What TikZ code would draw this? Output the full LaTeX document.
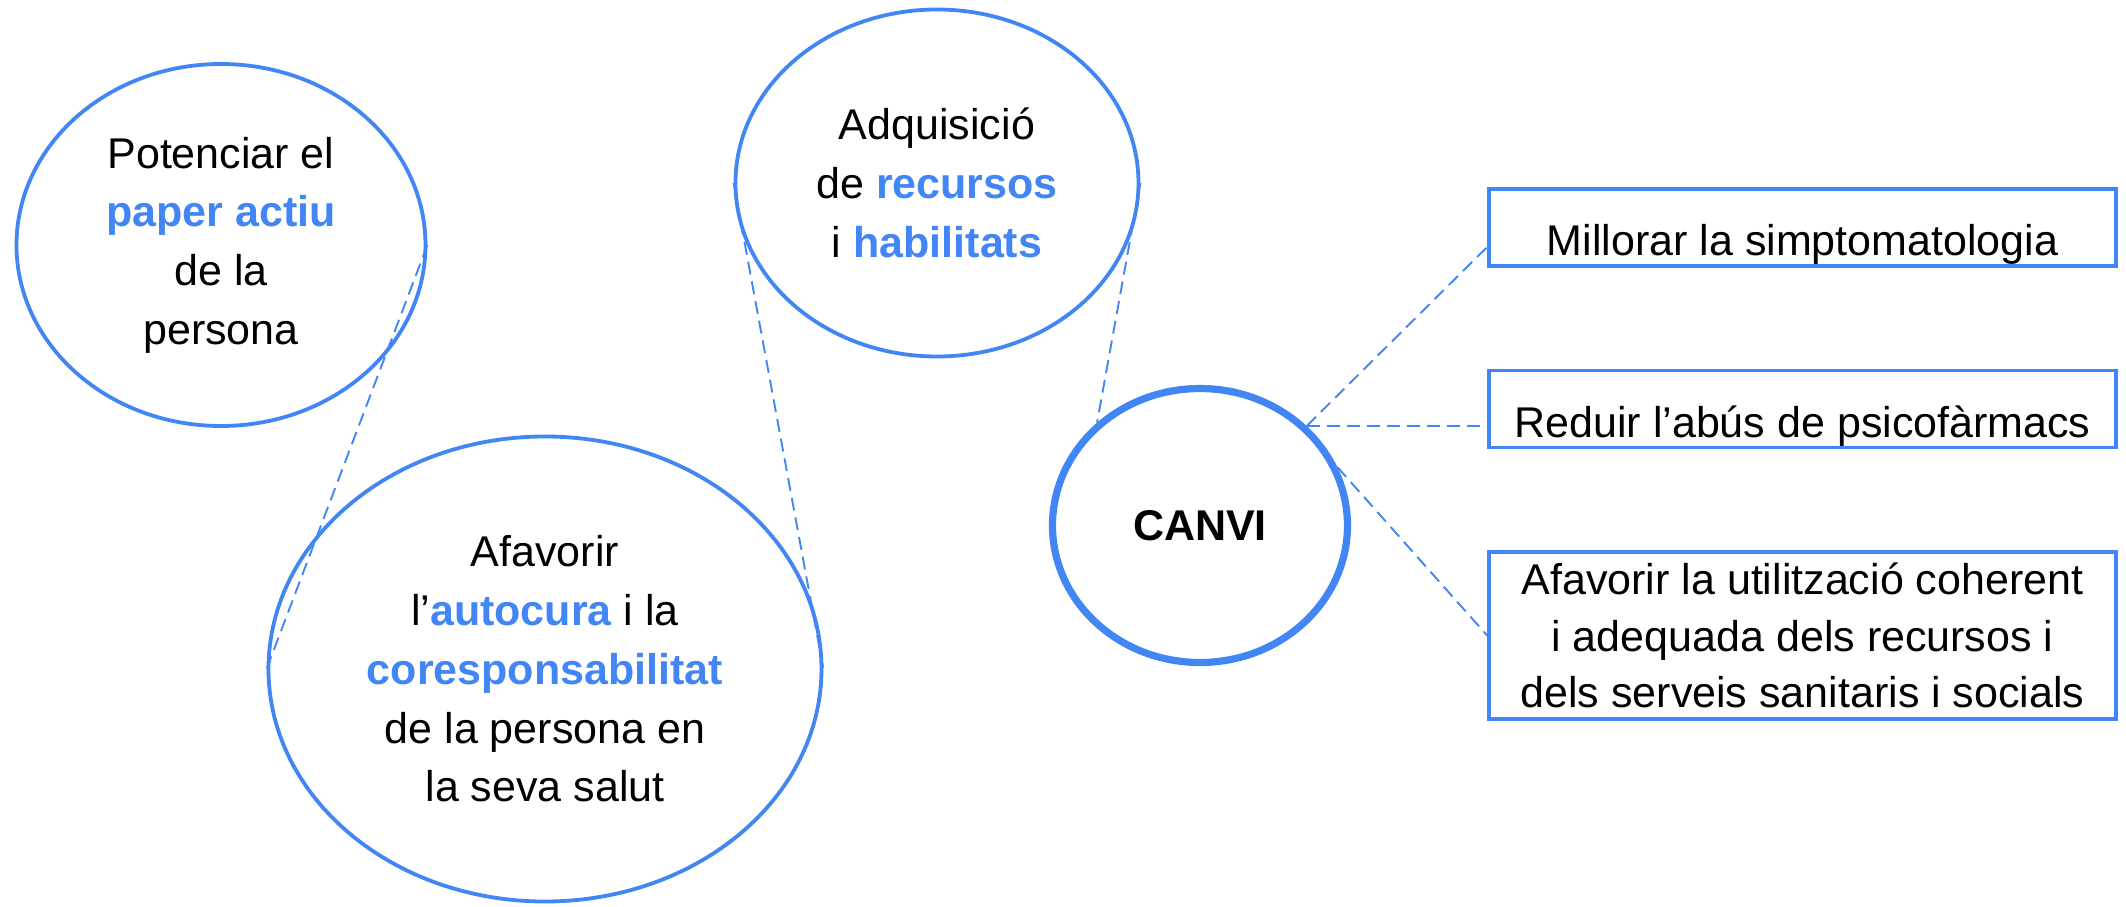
\documentclass[tikz,border=0pt]{standalone}
\usepackage{fontspec}
\setmainfont{Liberation Sans}
\usepackage{xcolor}
\usepackage{tikz}
\usetikzlibrary{arrows,positioning,shapes.geometric}
\definecolor{canviblue}{HTML}{4285F4}
\newcommand{\clau}[1]{\textcolor{canviblue}{\textbf{#1}}}

\begin{document}
\begin{tikzpicture}[on grid, font=\fontsize{21.5pt}{29.35pt}\selectfont,
    bubble/.style={ellipse, draw=canviblue, line width=1.9pt, align=center, inner sep=0pt},
    goal/.style={rectangle, draw=canviblue, line width=1.8pt, minimum width=313.5pt, inner ysep=0pt},
    link/.style={draw=canviblue, line width=0.95pt, dash pattern=on 6.5pt off 3.5pt}]
    \node (canvi) [ellipse, draw=canviblue, line width=3.6pt, minimum width=147.5pt,
      minimum height=137pt, font=\fontsize{21.5pt}{26pt}\selectfont\bfseries] {CANVI};
    \useasboundingbox (-600pt,-190.25pt) rectangle (463pt,262.75pt);
    % ellipses on the left
    \node (adquisicio) [bubble, above left = 171.25pt and 131.5pt of canvi,
      minimum width=201.5pt, minimum height=173.5pt]
      {Adquisició\\ de \clau{recursos}\\ i \clau{habilitats}};
    \node (afavorir) [bubble, below left = 71.75pt and 327.5pt of canvi,
      minimum width=276.5pt, minimum height=232.5pt]
      {Afavorir\\ l’\clau{autocura} i la\\ \clau{coresponsabilitat}\\ de la persona en\\ la seva salut};
    \node (potenciar) [bubble, above left = 212pt and 162pt of afavorir,
      minimum width=204.5pt, minimum height=181pt]
      {Potenciar el\\ \clau{paper actiu}\\ de la\\ persona};
    % boxes on the right
    \node (reduir) [goal, above right = 58.25pt and 301.25pt of canvi,
      minimum height=38.5pt, text height=28pt, text depth=0pt]
      {Reduir l’abús de psicofàrmacs};
    \node (millorar) [goal, above = 90.75pt of reduir,
      minimum height=38.5pt, text height=27.5pt, text depth=0pt]
      {Millorar la simptomatologia};
    \node (utilitzacio) [goal, below = 113.25pt of reduir, minimum height=83.5pt,
      align=center, font=\fontsize{21.5pt}{28.25pt}\selectfont]
      {Afavorir la utilització coherent\\ i adequada dels recursos i\\ dels serveis sanitaris i socials};
    % dashed links
    \path (potenciar.east) edge [link] (afavorir.west)
      (adquisicio.west) edge [link] (afavorir.east)
      (adquisicio.east) edge [link] (canvi.135)
      (canvi.43) edge [link] ([yshift=-9.75pt]millorar.west)
      (canvi.43) edge [link] (canvi.43 -| reduir.west)
      (canvi.23) edge [link] (utilitzacio.west);
\end{tikzpicture}
\end{document}
